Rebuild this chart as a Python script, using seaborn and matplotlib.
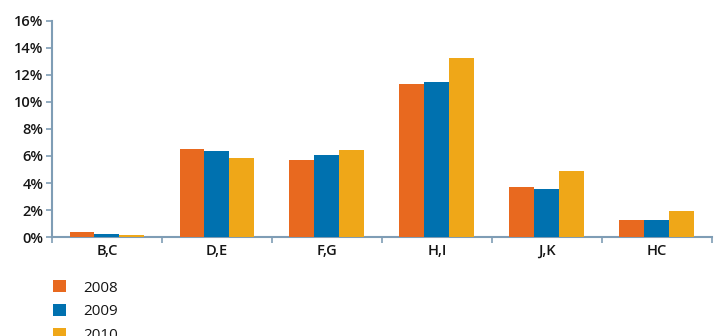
import matplotlib
matplotlib.use("Agg")
import matplotlib.pyplot as plt
import seaborn as sns
import pandas as pd
from matplotlib.ticker import PercentFormatter, FixedLocator

categories = ["B,C", "D,E", "F,G", "H,I", "J,K", "HC"]
years = ["2008", "2009", "2010"]
v2008 = [0.40, 6.50, 5.68, 11.33, 3.67, 1.29]
v2009 = [0.25, 6.35, 6.05, 11.48, 3.52, 1.29]
v2010 = [0.17, 5.83, 6.42, 13.26, 4.86, 1.96]
colors = ["#E8691F", "#0071AF", "#EFA718"]

rows = []
for yr, vals in zip(years, [v2008, v2009, v2010]):
    for c, v in zip(categories, vals):
        rows.append({"cat": c, "year": yr, "value": v})
df = pd.DataFrame(rows)

sns.set_theme(style="white")
plt.rcParams["font.family"] = ["Open Sans", "DejaVu Sans"]

fig = plt.figure(figsize=(7.16, 3.36), dpi=100)
ax = fig.add_axes([0.0726, 0.2946, 0.9214, 0.643])
sns.barplot(data=df, x="cat", y="value", hue="year", palette=colors,
            width=0.68, saturation=1, linewidth=0, ax=ax, legend=True)

spine_c = "#7F9DB5"
txt_c = "#151515"
ax.set_ylim(0, 16)
ax.set_xlim(-0.5, 5.5)
ax.set_yticks(range(0, 17, 2))
ax.yaxis.set_major_formatter(PercentFormatter(decimals=0))
ax.set_xlabel("")
ax.set_ylabel("")
for s in ["top", "right"]:
    ax.spines[s].set_visible(False)
for s in ["left", "bottom"]:
    ax.spines[s].set_color(spine_c)
    ax.spines[s].set_linewidth(1.5)
    ax.spines[s].set_zorder(0.5)
ax.tick_params(axis="y", which="major", length=4, color=spine_c, width=1.2,
               labelsize=10.5, labelcolor=txt_c, pad=2, direction="out", left=True)
ax.tick_params(axis="x", which="major", length=0, labelsize=10.5, labelcolor=txt_c, pad=5)
ax.xaxis.set_minor_locator(FixedLocator([i - 0.5 for i in range(7)]))
ax.tick_params(axis="x", which="minor", length=4, color=spine_c, width=1.2,
               direction="out", bottom=True)
for lab in ax.get_xticklabels() + ax.get_yticklabels():
    lab.set_fontweight("semibold")

handles, labels = ax.get_legend_handles_labels()
ax.get_legend().remove()
leg = fig.legend(handles, labels, loc="upper left", bbox_to_anchor=(0.065, 0.184),
                 frameon=False, fontsize=11, handlelength=0.85, handleheight=0.85,
                 handletextpad=1.15, labelspacing=0.55, borderaxespad=0)
for t in leg.get_texts():
    t.set_color(txt_c)

fig.savefig("out.png", dpi=100)
